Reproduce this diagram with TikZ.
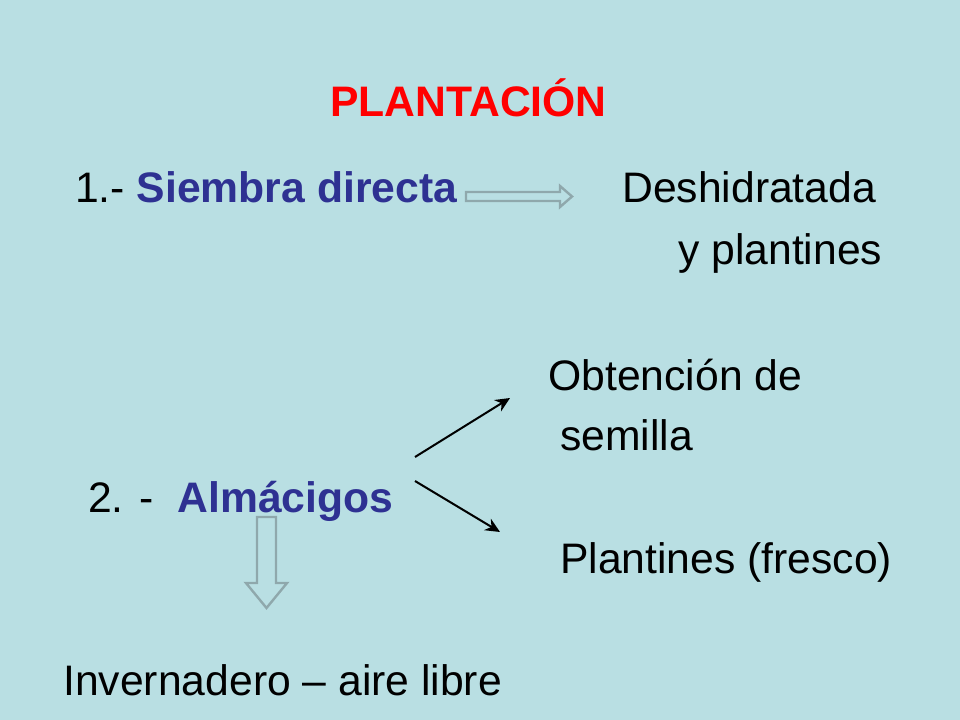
\documentclass[tikz,border=0pt]{standalone}
\usepackage{fontspec}
\setmainfont{Liberation Sans}
\usetikzlibrary{arrows.meta}
\definecolor{bg}{HTML}{B9DFE3}
\definecolor{ttl}{HTML}{FF0000}
\definecolor{blu}{HTML}{2E3192}
\definecolor{arr}{HTML}{8FA8AC}
\begin{document}
\begin{tikzpicture}[x=0.75pt,y=-0.75pt,
  txt/.style={anchor=base west,inner sep=0pt,font=\fontsize{32}{38}\selectfont},
  block/.style={draw=arr,line width=1.8pt,fill=bg,line join=miter},
  thin/.style={-{Stealth[length=11pt,width=10pt]},line width=1.5pt,black}]
\fill[bg] (0,0) rectangle (960,720);
\useasboundingbox (0,0) rectangle (960,720);
\node[txt,text=ttl,font=\fontsize{32}{38}\selectfont\bfseries] (t) at (330,117) {PLANTACIÓN};
\node[txt] (s1) at (75,203) {1.- \textcolor{blu}{\bfseries Siembra directa}};
\node[txt] (d) at (622,203) {Deshidratada};
\node[txt] (y) at (678,265) {y plantines};
\node[txt] (o) at (548,390) {Obtención de};
\node[txt] (se) at (560,450) {semilla};
\node[txt] (a) at (88,512) {2. -\ \ \textcolor{blu}{\bfseries Almácigos}};
\node[txt] (p) at (560,573) {Plantines (fresco)};
\node[txt] (i) at (63,695) {Invernadero – aire libre};
\coordinate (h0) at (466,192);
\draw[block] (h0) -- ++(94,0) -- ++(0,-6) -- ++(12,10.5) -- ++(-12,10.5) -- ++(0,-6) -- ++(-94,0) -- cycle;
\coordinate (v0) at (257,517);
\draw[block] (v0) -- ++(19,0) -- ++(0,66) -- ++(11,0) -- ++(-20.5,25) -- ++(-20.5,-25) -- ++(11,0) -- cycle;
\coordinate (u0) at (415,457);
\coordinate (u1) at (510,398);
\coordinate (l0) at (415,481);
\coordinate (l1) at (500,532);
\draw[thin] (u0) -- (u1);
\draw[thin] (l0) -- (l1);
\end{tikzpicture}
\end{document}
